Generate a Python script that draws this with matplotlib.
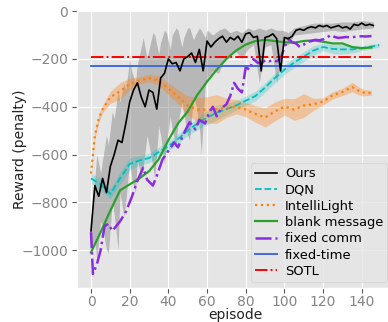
import numpy as np
import matplotlib
matplotlib.use("Agg")
import matplotlib.pyplot as plt

# --- Ours (mean every 2 episodes) ---
ours_ep = [0, 2, 4, 6, 8, 10, 12, 14, 16, 18, 20, 22, 24, 26, 28, 30, 32, 34, 36, 38,
           40, 42, 44, 46, 48, 50, 52, 54, 56, 58, 60, 62, 64, 66, 68, 70, 72, 74, 76, 78,
           80, 82, 84, 86, 88, 90, 92, 94, 96, 98, 100, 102, 104, 106, 108, 110, 112, 114,
           116, 118, 120, 122, 124, 126, 128, 130, 132, 134, 136, 138, 140, 142, 144, 146]
ours = [-920, -730, -775, -700, -760, -650, -600, -540, -550, -470, -380, -330, -300, -360,
        -400, -330, -340, -410, -280, -260, -200, -220, -215, -250, -200, -190, -175, -215,
        -160, -250, -125, -150, -130, -115, -105, -130, -110, -120, -105, -130, -95, -90,
        -110, -105, -250, -110, -105, -95, -115, -250, -110, -115, -105, -80, -75, -80,
        -70, -65, -70, -60, -65, -60, -70, -65, -60, -70, -65, -75, -55, -60, -50, -60,
        -55, -60]
ours_band_ep = [0, 2, 3, 5, 6, 8, 9, 11, 12, 14, 15, 17, 18, 20, 21, 23, 24, 26, 27, 29,
                30, 32, 33, 35, 36, 38, 39, 41, 42, 44, 45, 47, 48, 50, 51, 53, 54, 56, 57,
                59, 60, 63, 66, 69, 72, 75, 78, 81, 84, 87, 90, 93, 96, 99, 102, 105, 110,
                115, 120, 125, 130, 135, 140, 146]
ours_upper = [-870, -700, -600, -680, -620, -520, -560, -420, -450, -330, -380, -300, -330,
              -200, -250, -300, -220, -150, -110, -200, -160, -90, -100, -180, -130, -80,
              -90, -160, -100, -70, -80, -150, -110, -70, -70, -120, -100, -70, -80, -110,
              -80, -100, -80, -70, -90, -80, -90, -70, -80, -70, -80, -70, -80, -80, -90,
              -70, -60, -50, -50, -50, -45, -45, -40, -45]
ours_lower = [-1000, -960, -1040, -880, -900, -1000, -1010, -800, -850, -1000, -760, -860,
              -800, -620, -700, -760, -620, -700, -650, -520, -560, -650, -700, -480, -520,
              -640, -560, -440, -500, -560, -470, -380, -430, -520, -540, -360, -380, -480,
              -600, -320, -280, -250, -260, -200, -180, -170, -200, -160, -140, -300, -150,
              -140, -300, -150, -140, -100, -95, -90, -85, -80, -85, -80, -75, -70]

# --- DQN ---
dqn_ep = [0, 5, 10, 15, 20, 25, 30, 35, 40, 45, 50, 55, 60, 65, 70, 75, 80, 85, 90, 95,
          100, 105, 110, 115, 120, 125, 130, 135, 140, 145, 149]
dqn = [-700, -725, -765, -700, -640, -625, -615, -590, -565, -535, -500, -470, -445, -425,
       -410, -395, -375, -355, -320, -280, -245, -215, -190, -165, -150, -158, -160, -160,
       -155, -148, -142]
dqn_hw = [20, 25, 20, 25, 25, 20, 20, 20, 20, 20, 20, 25, 30, 30, 25, 20, 20, 20, 20, 20,
          20, 20, 20, 20, 15, 20, 20, 15, 10, 10, 8]

# --- IntelliLight ---
il_ep = [0, 2, 4, 6, 10, 15, 20, 25, 30, 35, 40, 45, 50, 55, 60, 65, 70, 75, 80, 85, 90,
         95, 100, 105, 110, 115, 120, 125, 130, 135, 140, 145]
il = [-680, -520, -450, -410, -360, -335, -305, -290, -280, -290, -325, -358, -395, -412,
      -413, -410, -405, -400, -412, -430, -445, -420, -400, -412, -395, -390, -378, -352,
      -338, -318, -340, -342]
il_hw = [15, 15, 15, 15, 25, 35, 25, 15, 15, 20, 25, 30, 40, 50, 55, 60, 40, 30, 30, 35,
         40, 40, 35, 45, 50, 25, 15, 15, 15, 20, 15, 10]

# --- blank message ---
blank_ep = [0, 5, 10, 15, 20, 25, 30, 35, 40, 45, 50, 55, 60, 65, 70, 75, 80, 85, 90, 95,
            100, 105, 110, 115, 120, 125, 130, 135, 140, 145]
blank = [-1010, -925, -835, -750, -725, -700, -670, -620, -540, -470, -420, -350, -295,
         -245, -200, -165, -140, -125, -120, -125, -130, -132, -125, -122, -128, -135,
         -135, -150, -155, -152]

# --- fixed comm ---
fc_ep = [0, 1, 3, 5, 7, 9, 11, 13, 15, 18, 21, 24, 27, 29, 32, 34, 37, 40, 43, 45, 47,
         49, 51, 54, 56, 59, 61, 63, 65, 67, 70, 72, 74, 76, 78, 80, 82, 84, 86, 88, 90,
         92, 94, 96, 98, 100, 102, 104, 106, 108, 110, 112, 114, 116, 118, 120, 122, 124,
         126, 128, 130, 132, 134, 136, 138, 140, 142, 145]
fc = [-925, -1100, -1060, -1000, -900, -890, -920, -900, -880, -840, -780, -710, -655,
      -705, -730, -690, -620, -585, -550, -570, -530, -495, -465, -495, -455, -470, -425,
      -400, -440, -410, -390, -355, -300, -325, -340, -235, -245, -200, -215, -220, -205,
      -210, -205, -210, -200, -150, -115, -130, -135, -150, -140, -128, -125, -120, -122,
      -118, -110, -100, -108, -112, -110, -108, -110, -108, -106, -105, -106, -104]

# --- constant baselines ---
base_ep = [0, 145]
fixed_time = [-230, -230]
sotl = [-190, -190]

plt.style.use("ggplot")
fig = plt.figure(figsize=(3.88, 3.22), dpi=100)
ax = fig.add_axes([0.1974, 0.1047, 0.817, 0.8643])

ax.fill_between(ours_band_ep, ours_lower, ours_upper, color="gray", alpha=0.45, lw=0)
ax.fill_between(dqn_ep, np.array(dqn) - np.array(dqn_hw), np.array(dqn) + np.array(dqn_hw),
                color="c", alpha=0.25, lw=0)
ax.fill_between(il_ep, np.array(il) - np.array(il_hw), np.array(il) + np.array(il_hw),
                color="tab:orange", alpha=0.35, lw=0)

h_dqn, = ax.plot(dqn_ep, dqn, "--", color="c", lw=1.3, label="DQN")
h_il, = ax.plot(il_ep, il, ":", color="tab:orange", lw=1.6, label="IntelliLight")
h_blank, = ax.plot(blank_ep, blank, "-", color="tab:green", lw=1.6, label="blank message")
h_fc, = ax.plot(fc_ep, fc, "-.", color="blueviolet", lw=1.8, label="fixed comm")
h_ft, = ax.plot(base_ep, fixed_time, "-", color="royalblue", lw=1.4, label="fixed-time")
h_sotl, = ax.plot(base_ep, sotl, "-.", color="red", lw=1.4, label="SOTL")
h_ours, = ax.plot(ours_ep, ours, "-", color="black", lw=1.2, label="Ours")

ax.set_xlim(-7.45, 156.45)
ax.set_ylim(-1160, 5)
ax.set_xticks([0, 20, 40, 60, 80, 100, 120, 140])
ax.set_yticks([0, -200, -400, -600, -800, -1000])
ax.tick_params(labelsize=10, labelcolor="#858585", pad=2.5)
ax.tick_params(axis="x", pad=1.5)
ax.set_xlabel("episode", fontsize=10, color="#222222")
ax.set_ylabel("Reward (penalty)", fontsize=10, color="#222222")
ax.xaxis.set_label_coords(0.5, -0.072)
ax.yaxis.set_label_coords(-0.156, 0.5)

ax.legend(handles=[h_ours, h_dqn, h_il, h_blank, h_fc, h_ft, h_sotl],
          loc="lower right", fontsize=9.4, labelspacing=0.25, handlelength=1.7,
          handletextpad=0.6, borderpad=0.3, borderaxespad=0.5)

fig.savefig("out.png", dpi=100)
